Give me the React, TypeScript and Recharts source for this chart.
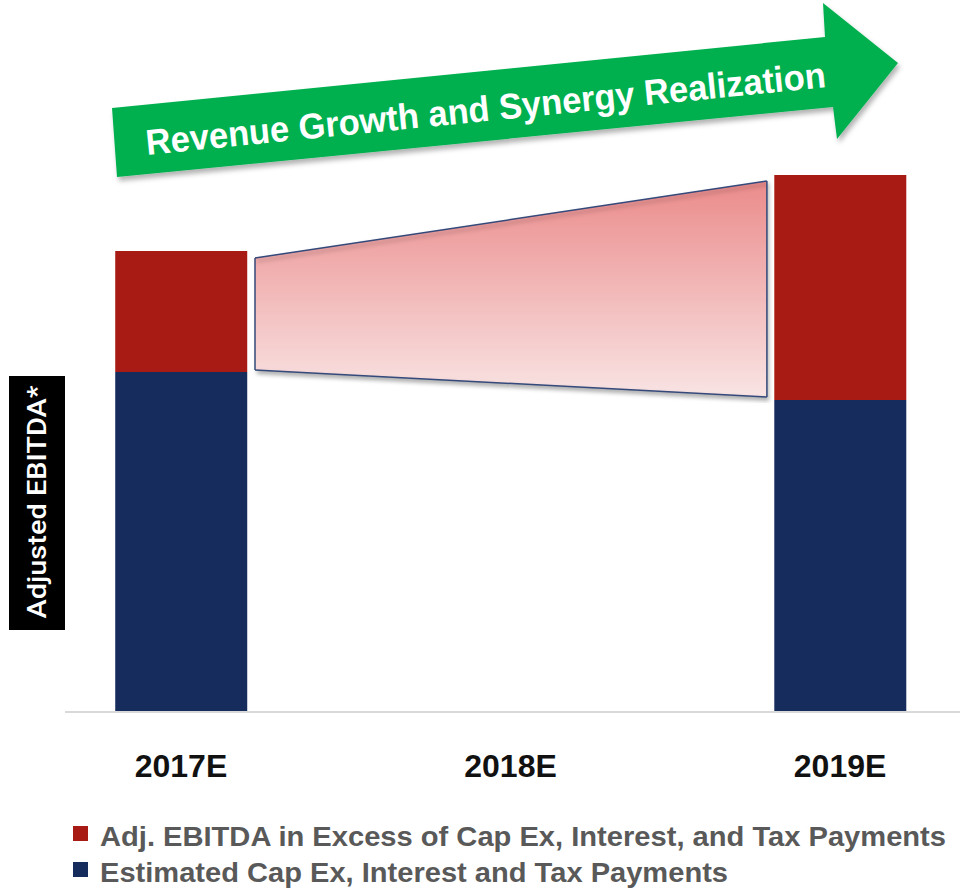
import React from "react";
import {
  ComposedChart,
  Bar,
  Area,
  XAxis,
  YAxis,
  Legend,
  ReferenceLine,
} from "recharts";

const categories = ["2017E", "2018E", "2019E"];
const capexPayments = [340, null, 312];
const excessEbitda = [121, null, 225];

// growth "bridge" between the two bars
const bridgeX = [0.2246, 1.778];
const bridgeLow = [342, 315];
const bridgeHigh = [454, 531];

const NAVY = "#152c5d";
const RED = "#a81b14";
const X_DOMAIN = [-0.352, 2.364];

const barData = categories.map((name, i) => ({
  x: i,
  name,
  capex: capexPayments[i],
  excess: excessEbitda[i],
}));

const bridgeData = bridgeX.map((x, i) => ({
  x,
  band: [bridgeLow[i], bridgeHigh[i]],
}));

function CategoryTick({ x, y, payload }: any) {
  return (
    <text
      x={x}
      y={y + 57}
      textAnchor="middle"
      fontFamily="'Liberation Sans', Arial, sans-serif"
      fontWeight="bold"
      fontSize={32}
      fill="#111"
    >
      {categories[payload.value]}
    </text>
  );
}

const legendOrder = ["excess", "capex"];
const legendWidths = [846, 628];

function LegendContent({ payload }: any) {
  const items = legendOrder
    .map((k) => (payload || []).find((p: any) => p.dataKey === k))
    .filter(Boolean);
  return (
    <svg width={896} height={76}>
      {items.map((p: any, i: number) => (
        <g key={p.value}>
          <rect x={8} y={11 + i * 36} width={15} height={15} fill={p.color} />
          <text
            x={35}
            y={31 + i * 36}
            fontFamily="'Liberation Sans', Arial, sans-serif"
            fontWeight="bold"
            fontSize={28}
            fill="#595959"
            textLength={legendWidths[i]}
            lengthAdjust="spacingAndGlyphs"
          >
            {p.value}
          </text>
        </g>
      ))}
    </svg>
  );
}

export default function App() {
  return (
    <div
      style={{
        position: "absolute",
        left: 0,
        top: 0,
        width: 961,
        height: 892,
        overflow: "hidden",
        background: "#fff",
      }}
    >
      <ComposedChart
        width={961}
        height={892}
        data={barData}
        margin={{ top: 112, right: 1, bottom: 120, left: 65 }}
      >
        <defs>
          <linearGradient id="bridgeFill" x1="0" y1="0" x2="0" y2="1">
            <stop offset="0%" stopColor="#eb8b8b" />
            <stop offset="100%" stopColor="#f9e4e4" />
          </linearGradient>
          <filter id="shadow" x="-10%" y="-10%" width="120%" height="130%">
            <feDropShadow dx="2" dy="3" stdDeviation="2" floodColor="#000" floodOpacity="0.3" />
          </filter>
        </defs>
        <XAxis
          dataKey="x"
          type="number"
          domain={X_DOMAIN}
          allowDataOverflow
          ticks={[0, 1, 2]}
          height={60}
          tick={<CategoryTick />}
          tickLine={false}
          axisLine={{ stroke: "#d9d9d9", strokeWidth: 2 }}
        />
        <XAxis
          xAxisId="bridge"
          dataKey="x"
          type="number"
          domain={X_DOMAIN}
          allowDataOverflow
          hide
        />
        <YAxis hide domain={[0, 600]} allowDataOverflow />
        <Bar
          dataKey="capex"
          stackId="a"
          name="Estimated Cap Ex, Interest and Tax Payments"
          fill={NAVY}
          barSize={132}
          isAnimationActive={false}
        />
        <Bar
          dataKey="excess"
          stackId="a"
          name="Adj. EBITDA in Excess of Cap Ex, Interest, and Tax Payments"
          fill={RED}
          barSize={132}
          isAnimationActive={false}
        />
        <Area
          xAxisId="bridge"
          data={bridgeData}
          dataKey="band"
          type="linear"
          fill="url(#bridgeFill)"
          fillOpacity={1}
          stroke="#34497a"
          strokeWidth={1.5}
          legendType="none"
          isAnimationActive={false}
          style={{ filter: "url(#shadow)" }}
        />
        {bridgeX.map((x, i) => (
          <ReferenceLine
            key={x}
            xAxisId="bridge"
            segment={[
              { x, y: bridgeLow[i] },
              { x, y: bridgeHigh[i] },
            ]}
            stroke="#34497a"
            strokeWidth={1.5}
          />
        ))}
        <Legend
          layout="horizontal"
          verticalAlign="middle"
          align="center"
          wrapperStyle={{ top: 815, left: 65, width: 896, height: 76 }}
          content={<LegendContent />}
        />
      </ComposedChart>

      <svg
        width={961}
        height={892}
        style={{ position: "absolute", left: 0, top: 0, pointerEvents: "none" }}
      >
        <defs>
          <filter id="arrowShadow" x="-5%" y="-20%" width="110%" height="150%">
            <feDropShadow dx="2" dy="4" stdDeviation="2.5" floodColor="#000" floodOpacity="0.3" />
          </filter>
        </defs>
        <polygon
          points="112,108 825,37 823,3 898,63 837,139 833,107 117,177"
          fill="#00b050"
          filter="url(#arrowShadow)"
        />
        <text
          x={147}
          y={155}
          transform="rotate(-5.7 147 155)"
          fontFamily="'Liberation Sans', Arial, sans-serif"
          fontWeight="bold"
          fontSize={36}
          fill="#fff"
          textLength={683}
          lengthAdjust="spacingAndGlyphs"
        >
          Revenue Growth and Synergy Realization
        </text>
        <rect x={9} y={376} width={56} height={254} fill="#000" />
        <text
          x={0}
          y={0}
          transform="translate(46 502) rotate(-90)"
          textAnchor="middle"
          fontFamily="Roboto, 'Liberation Sans', sans-serif"
          fontWeight={500}
          fontSize={26}
          fill="#fff"
          textLength={233}
          lengthAdjust="spacingAndGlyphs"
        >
          Adjusted EBITDA*
        </text>
      </svg>
    </div>
  );
}
